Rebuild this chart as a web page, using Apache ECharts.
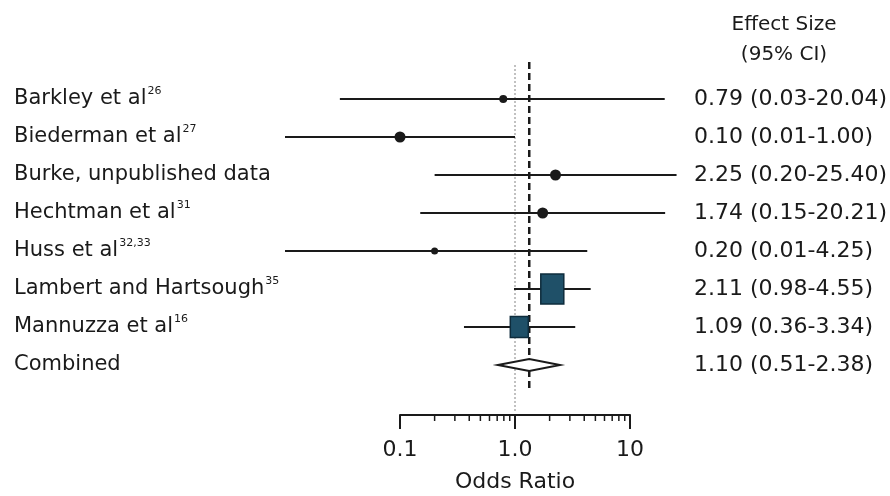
<!DOCTYPE html>
<html>
<head>
<meta charset="utf-8">
<script src="https://cdn.jsdelivr.net/npm/echarts@6/dist/echarts.min.js"></script>
<style>html,body{margin:0;background:#fff}#main{width:890px;height:496px}</style>
</head>
<body>
<div id="main"></div>
<script type="text/javascript">
// data
var studies = ['Barkley et al', 'Biederman et al', 'Burke, unpublished data', 'Hechtman et al',
  'Huss et al', 'Lambert and Hartsough', 'Mannuzza et al', 'Combined'];
var refs = ['26', '27', '', '31', '32,33', '35', '16', ''];
var oddsRatio = [0.79, 0.10, 2.25, 1.74, 0.20, 2.11, 1.09];
var ciLow = [0.03, 0.01, 0.20, 0.15, 0.01, 0.98, 0.36];
var ciHigh = [20.04, 1.00, 25.40, 20.21, 4.25, 4.55, 3.34];
var effectLabels = ['0.79 (0.03-20.04)', '0.10 (0.01-1.00)', '2.25 (0.20-25.40)', '1.74 (0.15-20.21)',
  '0.20 (0.01-4.25)', '2.11 (0.98-4.55)', '1.09 (0.36-3.34)', '1.10 (0.51-2.38)'];
// pooled diamond where the figure draws it: low, estimate, high
var pooled = [0.71, 1.33, 2.46];
var xTickLabels = {'0.1': '0.1', '1': '1.0', '10': '10'};
var minorTicks = [0.2, 0.3, 0.4, 0.5, 0.6, 0.7, 0.8, 0.9, 2, 3, 4, 5, 6, 7, 8, 9];

// marker look per study (circles for small weights, squares for big ones)
var markerShape = ['circle', 'circle', 'circle', 'circle', 'circle', 'rect', 'rect'];
var markerSize = [[8, 8], [11, 11], [11, 11], [11, 11], [7, 7], [23, 30], [18, 21]];

var ink = '#1a1a1a';
var font = 'DejaVu Sans';
var axisOffset = 31;

var myChart = echarts.init(document.getElementById('main'));

var rows = oddsRatio.map(function (v, i) { return [ciLow[i], v, ciHigh[i], i]; });

var option = {
  animation: false,
  backgroundColor: '#fff',
  textStyle: {fontFamily: font, color: ink},
  graphic: [{
    type: 'text', x: 784, y: 10,
    style: {text: 'Effect Size\n(95% CI)', align: 'center', fontSize: 20, lineHeight: 30,
      fontFamily: font, fill: ink}
  }],
  grid: {left: 400, width: 230, top: 80, height: 304, outerBoundsMode: 'none'},
  xAxis: {
    type: 'log', logBase: 10, min: 0.1, max: 10,
    offset: axisOffset,
    axisLine: {show: true, lineStyle: {color: ink, width: 2}},
    axisTick: {show: true, length: 14, lineStyle: {color: ink, width: 2}},
    splitLine: {show: false},
    axisLabel: {
      fontSize: 22, color: ink, margin: 24, fontFamily: font,
      formatter: function (v) { return xTickLabels[String(v)] || String(v); }
    },
    name: 'Odds Ratio', nameLocation: 'middle', nameGap: 56,
    nameTextStyle: {fontSize: 22, color: ink, fontFamily: font}
  },
  yAxis: [{
    type: 'category', inverse: true, data: studies,
    axisLine: {show: false}, axisTick: {show: false},
    axisLabel: {
      align: 'left', margin: 386,
      formatter: function (v, i) {
        return '{n|' + v + '}' + (refs[i] ? '{s|' + refs[i] + '}' : '');
      },
      rich: {
        n: {fontSize: 21, color: ink, fontFamily: font, lineHeight: 26},
        s: {fontSize: 11, color: ink, fontFamily: font, verticalAlign: 'top', lineHeight: 26, padding: [0, 0, 10, 1]}
      }
    }
  }, {
    type: 'category', inverse: true, position: 'right', data: effectLabels,
    axisLine: {show: false}, axisTick: {show: false},
    axisLabel: {align: 'left', margin: 64, fontSize: 22, color: ink, fontFamily: font}
  }],
  series: [{
    // reference lines: dotted at OR = 1, dashed at pooled estimate
    type: 'custom', silent: true, z: 1,
    data: [[0]],
    renderItem: function (params, api) {
      var cs = params.coordSys;
      var x1 = api.coord([1, 0])[0];
      var xp = api.coord([pooled[1], 0])[0];
      return {type: 'group', children: [{
        type: 'line',
        shape: {x1: x1, y1: cs.y - 15, x2: x1, y2: cs.y + cs.height + 28},
        style: {stroke: '#999', lineWidth: 1.2, lineDash: [2, 2]}
      }, {
        type: 'line',
        shape: {x1: xp, y1: cs.y - 18, x2: xp, y2: cs.y + cs.height + 6},
        style: {stroke: ink, lineWidth: 2.5, lineDash: [7, 4]}
      }]};
    }
  }, {
    type: 'custom', z: 3,
    data: rows,
    renderItem: function (params, api) {
      var i = api.value(3);
      var lo = api.coord([api.value(0), i]);
      var mid = api.coord([api.value(1), i]);
      var hi = api.coord([api.value(2), i]);
      var sz = markerSize[i];
      var mark = markerShape[i] === 'rect' ? {
        type: 'rect',
        shape: {x: mid[0] - sz[0] / 2, y: mid[1] - sz[1] / 2, width: sz[0], height: sz[1]},
        style: {fill: '#1f5068', stroke: '#0e2c3c', lineWidth: 1.5}
      } : {
        type: 'circle',
        shape: {cx: mid[0], cy: mid[1], r: sz[0] / 2},
        style: {fill: ink}
      };
      return {type: 'group', children: [{
        type: 'line',
        shape: {x1: lo[0], y1: lo[1], x2: hi[0], y2: hi[1]},
        style: {stroke: ink, lineWidth: 2}
      }, mark]};
    }
  }, {
    // pooled diamond
    type: 'custom', z: 3,
    data: [[pooled[0], pooled[1], pooled[2], 7]],
    renderItem: function (params, api) {
      var r = api.value(3);
      var lo = api.coord([api.value(0), r]);
      var mid = api.coord([api.value(1), r]);
      var hi = api.coord([api.value(2), r]);
      return {
        type: 'polygon',
        shape: {points: [[lo[0], lo[1]], [mid[0], mid[1] - 6], [hi[0], hi[1]], [mid[0], mid[1] + 6]]},
        style: {fill: '#fff', stroke: ink, lineWidth: 2}
      };
    }
  }, {
    // minor ticks on the odds-ratio axis
    type: 'custom', silent: true, z: 2,
    data: minorTicks.map(function (v) { return [v]; }),
    renderItem: function (params, api) {
      var cs = params.coordSys;
      var x = api.coord([api.value(0), 0])[0];
      var y = cs.y + cs.height + axisOffset;
      return {
        type: 'line',
        shape: {x1: x, y1: y, x2: x, y2: y + 6},
        style: {stroke: ink, lineWidth: 1.5}
      };
    }
  }]
};

myChart.setOption(option);
</script>
</body>
</html>
